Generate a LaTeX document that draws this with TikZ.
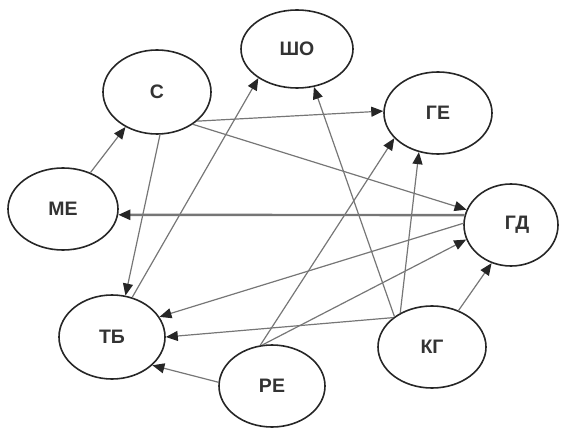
\documentclass[tikz,border=0pt]{standalone}
\usepackage{fontspec}
\setmainfont{Liberation Sans}
\usetikzlibrary{shapes.geometric,arrows.meta}
\definecolor{edgegray}{HTML}{767676}
\definecolor{textgray}{HTML}{333333}
\tikzset{
  factor/.style={ellipse, draw=black!85, line width=1.6pt, inner sep=0pt,
    font=\bfseries\fontsize{19.5}{19.5}\selectfont, text=textgray},
  link/.style={draw=edgegray, line width=1.2pt,
    -{Triangle[length=12pt,width=10pt,fill=black!85,color=black!85]}},
  mainlink/.style={link, line width=2.4pt}
}
\begin{document}
\begin{tikzpicture}[x=1pt,y=-1pt]
\useasboundingbox (0,0) rectangle (564,430);
% factors
\node[factor, minimum width=108pt, minimum height=84pt] (S)  at (157,92)  {С};
\node[factor, minimum width=112pt, minimum height=78pt] (SO) at (297,49)  {ШО};
\node[factor, minimum width=108pt, minimum height=82pt] (GE) at (438,113) {ГЕ};
\node[factor, minimum width=94pt,  minimum height=82pt] (GD) at (511,225) {\hspace*{12pt}ГД};
\node[factor, minimum width=110pt, minimum height=82pt] (ME) at (63,209)  {МЕ};
\node[factor, minimum width=106pt, minimum height=84pt] (TB) at (112,337) {ТБ};
\node[factor, minimum width=106pt, minimum height=82pt] (RE) at (272,386) {РЕ};
\node[factor, minimum width=108pt, minimum height=82pt] (KG) at (432,347) {КГ};
% influences
\draw[link] (ME.53) -- (S.228);
\draw[link] (S.-36) -- (GE.178);
\draw[link] (S.-42) -- (GD.161);
\draw[link] (S.-86) -- (TB.72);
\draw[link] (TB.63) -- (SO.217);
\draw[mainlink] (GD.168) -- (ME.-6);
\draw[link] (GD.178) -- (TB.23);
\draw[link] (KG.143) -- (TB.0);
\draw[link] (RE.176) -- (TB.-35);
\draw[link] (RE.106) -- (GE.210);
\draw[link] (RE.103) -- (GD.198);
\draw[link] (KG.141) -- (SO.-66);
\draw[link] (KG.133) -- (GE.-116);
\draw[link] (KG.54) -- (GD.-117);
\end{tikzpicture}
\end{document}
